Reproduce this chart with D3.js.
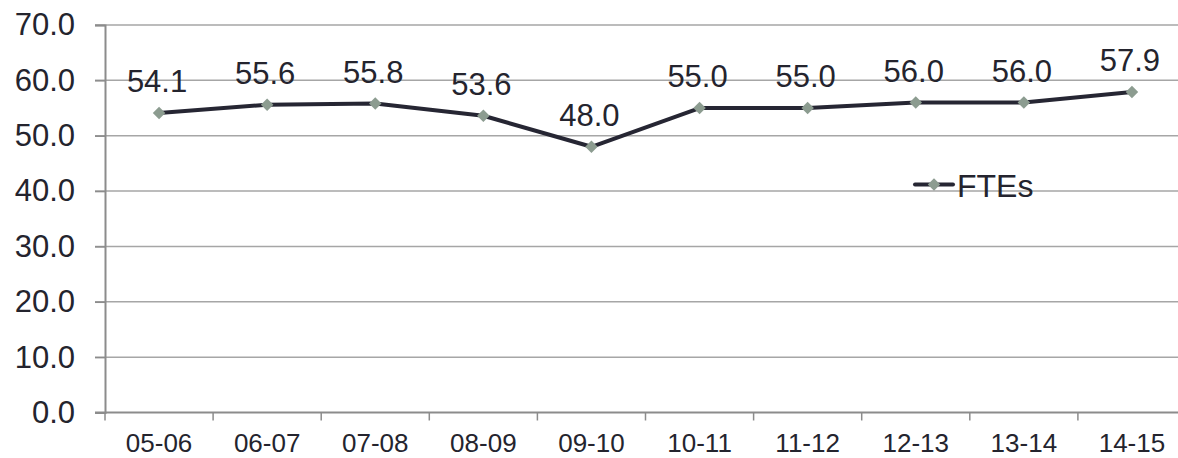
<!DOCTYPE html>
<html>
<head>
<meta charset="utf-8">
<script src="https://cdn.jsdelivr.net/npm/d3@7"></script>
<style>
  html, body { margin: 0; padding: 0; background: #ffffff; }
  svg { display: block; font-family: "Liberation Sans", Arial, sans-serif; }
</style>
</head>
<body>
<svg id="chart" width="1178" height="458"></svg>
<script>
// Full-time equivalents by financial year
const years = ["05-06", "06-07", "07-08", "08-09", "09-10", "10-11", "11-12", "12-13", "13-14", "14-15"];
const ftes = [54.1, 55.6, 55.8, 53.6, 48.0, 55.0, 55.0, 56.0, 56.0, 57.9];
const yTicks = [0, 10, 20, 30, 40, 50, 60, 70];
const seriesName = "FTEs";

const svg = d3.select("#chart");
const plotLeft = 105, plotRight = 1186, plotTop = 25, plotBottom = 412.5;

const x = d3.scaleBand().domain(years).range([plotLeft, plotRight]);
const y = d3.scaleLinear().domain([0, 70]).range([plotBottom, plotTop]);

const textColor = "#24242e";
const lineColor = "#262633";
const markerColor = "#8c9c90";

// Horizontal gridlines (they run past the axis as the y ticks)
svg.append("g")
  .selectAll("line")
  .data(yTicks.filter(d => d !== 0))
  .join("line")
  .attr("x1", plotLeft - 10).attr("x2", 1178)
  .attr("y1", d => y(d)).attr("y2", d => y(d))
  .attr("stroke", "#a6a6a6").attr("stroke-width", 1.5);

// Y axis
const yAxis = svg.append("g")
  .attr("transform", `translate(${plotLeft},0)`)
  .call(d3.axisLeft(y).tickValues(yTicks).tickFormat(d3.format(".1f")).tickSize(10).tickPadding(20));
yAxis.select(".domain").attr("stroke", "#8c8c8c").attr("stroke-width", 2);
yAxis.selectAll(".tick line").attr("stroke", "#8c8c8c").attr("stroke-width", 1.5);
yAxis.selectAll(".tick text")
  .attr("fill", textColor).attr("font-size", 31)
  .attr("font-family", "Liberation Sans, Arial, sans-serif");

// X axis with ticks at category boundaries
const xAxis = svg.append("g")
  .attr("transform", `translate(0,${plotBottom})`)
  .call(d3.axisBottom(x).tickSize(0).tickPadding(21));
xAxis.select(".domain").remove();
xAxis.append("line")
  .attr("x1", plotLeft - 10).attr("x2", 1178)
  .attr("stroke", "#8c8c8c").attr("stroke-width", 2);
xAxis.selectAll(".tick text")
  .attr("fill", textColor).attr("font-size", 26)
  .attr("font-family", "Liberation Sans, Arial, sans-serif");
xAxis.append("g")
  .selectAll("line")
  .data(years)
  .join("line")
  .attr("x1", d => x(d)).attr("x2", d => x(d))
  .attr("y1", 0).attr("y2", 8)
  .attr("stroke", "#8c8c8c").attr("stroke-width", 1.5);

// Series line
const cx = d => x(d) + x.bandwidth() / 2;
const pts = years.map((d, i) => [cx(d), y(ftes[i])]);
svg.append("path")
  .datum(pts)
  .attr("d", d3.line())
  .attr("fill", "none")
  .attr("stroke", lineColor)
  .attr("stroke-width", 4)
  .attr("stroke-linejoin", "round");

// Diamond markers
const diamond = d3.symbol().type(d3.symbolDiamond2).size(100);
svg.append("g")
  .selectAll("path")
  .data(pts)
  .join("path")
  .attr("transform", d => `translate(${d[0]},${d[1]})`)
  .attr("d", diamond)
  .attr("fill", markerColor);

// Value labels
svg.append("g")
  .selectAll("text")
  .data(years)
  .join("text")
  .attr("x", d => cx(d) - 2)
  .attr("y", (d, i) => y(ftes[i]) - 21)
  .attr("text-anchor", "middle")
  .attr("fill", textColor)
  .attr("font-size", 31)
  .text((d, i) => d3.format(".1f")(ftes[i]));

// Legend
const lg = svg.append("g").attr("transform", "translate(915,184.5)");
lg.append("line").attr("x1", 0).attr("x2", 38)
  .attr("stroke", lineColor).attr("stroke-width", 4).attr("stroke-linecap", "round");
lg.append("path").attr("transform", "translate(19,0)").attr("d", diamond).attr("fill", markerColor);
lg.append("text").attr("x", 42).attr("y", 12)
  .attr("fill", textColor).attr("font-size", 32).text(seriesName);
</script>
</body>
</html>
